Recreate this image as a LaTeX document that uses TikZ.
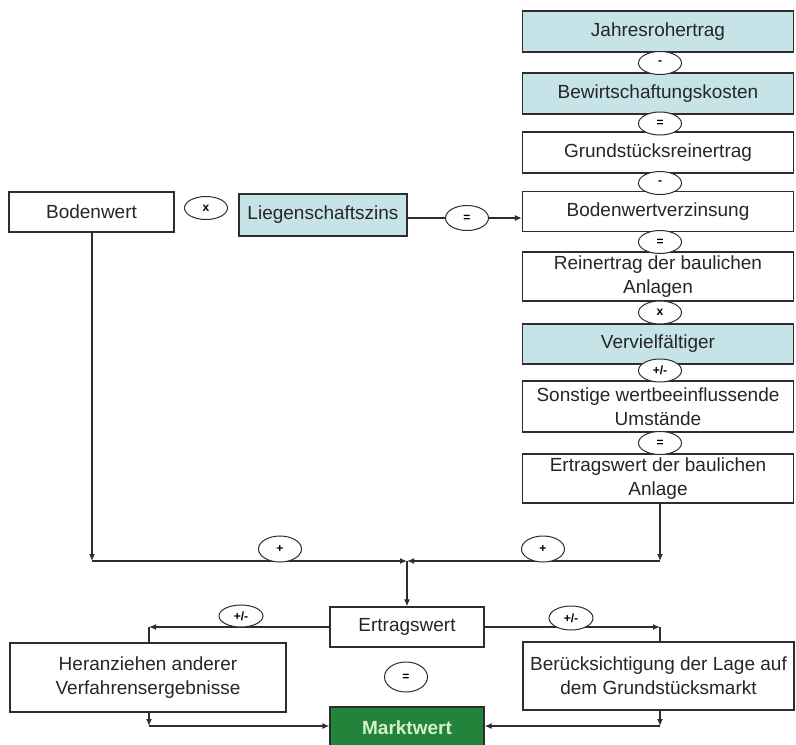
\documentclass[tikz,border=0pt]{standalone}
\usepackage{fontspec}
\setmainfont{Liberation Sans}
\usetikzlibrary{shapes.geometric,arrows.meta}
\definecolor{hellblau}{RGB}{198,228,231}
\definecolor{dunkelgruen}{RGB}{34,132,58}
\definecolor{hellgruen}{RGB}{214,240,200}
\definecolor{rand}{RGB}{45,45,45}
\tikzset{
  kasten/.style={draw=rand, line width=1.3pt, fill=white, align=center, inner sep=2pt, text=black!85, font=\fontsize{19}{24}\selectfont},
  blaukasten/.style={kasten, fill=hellblau},
  spalte/.style={minimum width=271pt},
  op/.style={ellipse, draw=rand, line width=1pt, fill=white, inner sep=0pt, minimum width=43pt, minimum height=23pt, font=\fontsize{12}{14}\selectfont\bfseries},
  strich/.style={line width=1.3pt, draw=rand},
  pfeil/.style={strich, -{Latex[length=7pt,width=6pt]}}
}
\begin{document}
\begin{tikzpicture}[x=1pt,y=-1pt]
\useasboundingbox (0,0) rectangle (796,745);
\node (jahr) at (658,31.5) [blaukasten, spalte, minimum height=41pt] {Jahresrohertrag};
\node (bewirt) at (658,93.5) [blaukasten, spalte, minimum height=41pt] {Bewirtschaftungskosten};
\node (grund) at (658,152.5) [kasten, spalte, minimum height=41pt] {Grundstücksreinertrag};
\node (bwv) at (658,211.5) [kasten, spalte, minimum height=40pt] {Bodenwertverzinsung};
\node (rein) at (658,276.5) [kasten, spalte, minimum height=49pt] {Reinertrag der baulichen\\Anlagen};
\node (verv) at (658,344) [blaukasten, spalte, minimum height=40pt] {Vervielfältiger};
\node (sonst) at (658,406.5) [kasten, spalte, minimum height=51pt] {Sonstige wertbeeinflussende\\Umstände};
\node (ewb) at (658,478.5) [kasten, spalte, minimum height=49pt] {Ertragswert der baulichen\\Anlage};
\node (opA) at (660,63) [op] {-};
\node (opB) at (660,123.5) [op] {=};
\node (opC) at (660,183) [op] {-};
\node (opD) at (660,242) [op] {=};
\node (opE) at (660,312.5) [op] {x};
\node (opF) at (660,370.5) [op] {+/-};
\node (opG) at (660,443) [op] {=};
\node (boden) at (91.5,212) [kasten, minimum width=165pt, minimum height=40pt] {Bodenwert};
\node (opX) at (206,208) [op] {x};
\node (liegen) at (323,215) [blaukasten, minimum width=168pt, minimum height=42pt] {Liegenschaftszins};
\node (opEq) at (467,218) [op, minimum height=25pt] {=};
\draw[strich] (liegen.east |- opEq) -- (opEq);
\draw[pfeil] (opEq) -- (bwv.west |- opEq);
\coordinate (eckeL) at (92,561);
\coordinate (eckeR) at (660,561);
\coordinate (mitte) at (407,561);
\draw[pfeil] (boden.south -| eckeL) -- (eckeL);
\draw[pfeil] (eckeL) -- (mitte);
\draw[pfeil] (ewb.south -| eckeR) -- (eckeR);
\draw[pfeil] (eckeR) -- (mitte);
\node (plusL) at (280,549) [op, minimum height=26pt] {+};
\node (plusR) at (543,549) [op, minimum height=26pt] {+};
\node (ertrag) at (407,627) [kasten, minimum width=154pt, minimum height=40pt] {Ertragswert};
\draw[pfeil] (mitte) -- (ertrag.north);
\node (heran) at (148,677.5) [kasten, minimum width=276pt, minimum height=69pt] {Heranziehen anderer\\Verfahrensergebnisse};
\node (beruck) at (658.5,676) [kasten, minimum width=271pt, minimum height=68pt] {Berücksichtigung der Lage auf\\dem Grundstücksmarkt};
\node (markt) at (407,728) [kasten, fill=dunkelgruen, text=hellgruen, font=\fontsize{19}{24}\selectfont\bfseries, minimum width=154pt, minimum height=42pt] {Marktwert};
\coordinate (hL) at (149,627);
\coordinate (hR) at (660,627);
\draw[pfeil] (ertrag.west) -- (hL);
\draw[strich] (hL) -- (heran.north -| hL);
\draw[pfeil] (ertrag.east) -- (hR);
\draw[strich] (hR) -- (beruck.north -| hR);
\node (pmL) at (241,616) [op, minimum width=44pt, minimum height=22pt] {+/-};
\node (pmR) at (571,618) [op, minimum width=44pt, minimum height=24pt] {+/-};
\node (opM) at (406,677) [op, minimum height=30pt] {=};
\coordinate (uL) at (149,726);
\coordinate (uR) at (660,726);
\draw[pfeil] (heran.south -| uL) -- (uL);
\draw[pfeil] (uL) -- (markt.west |- uL);
\draw[pfeil] (beruck.south -| uR) -- (uR);
\draw[pfeil] (uR) -- (markt.east |- uR);
\end{tikzpicture}
\end{document}
